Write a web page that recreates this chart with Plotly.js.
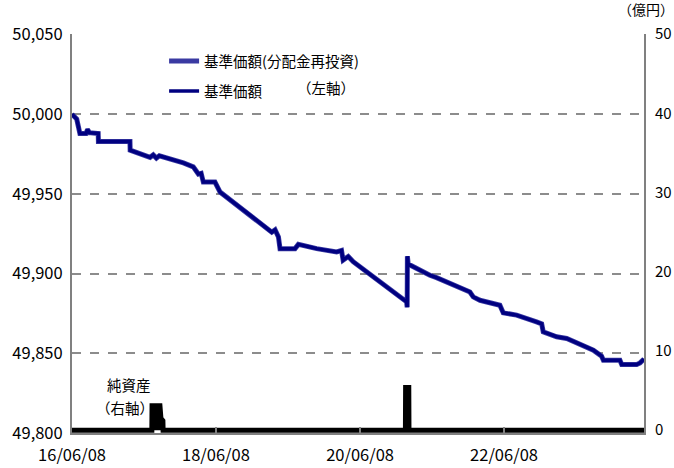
<!DOCTYPE html>
<html>
<head>
<meta charset="utf-8">
<script src="https://cdn.plot.ly/plotly-3.0.1.min.js"></script>
<style>
html,body{margin:0;padding:0;background:#fff;}
#chart{width:674px;height:468px;}
</style>
</head>
<body>
<div id="chart"></div>
<script>
// 基準価額 (left axis)
const navDates = [
  '2016-06-08','2016-07-02','2016-07-18','2016-08-18','2016-08-26','2016-09-04','2016-10-19','2016-10-20',
  '2017-03-29','2017-03-30','2017-07-09','2017-07-25','2017-08-10','2017-08-25','2017-12-25',
  '2018-02-13','2018-03-11','2018-03-25','2018-04-05','2018-06-03','2018-06-29','2018-10-08',
  '2019-01-01','2019-03-18','2019-04-04','2019-04-21','2019-04-29','2019-07-14','2019-07-31',
  '2019-09-28','2019-11-01','2020-02-10','2020-03-06','2020-03-14','2020-04-09','2020-05-04',
  '2021-01-30','2021-02-02','2021-02-03','2021-02-07','2021-05-28','2021-07-01','2021-12-17',
  '2022-01-03','2022-02-06','2022-05-18','2022-06-04','2022-08-11','2022-11-20','2022-12-16',
  '2022-12-24','2023-03-02','2023-04-22','2023-09-04','2023-10-16','2023-10-25','2024-01-17',
  '2024-01-26','2024-04-11','2024-04-28','2024-05-18'
];
const navValues = [
  50000,49997,49988,49988,49990.5,49988.5,49988,49983,
  49983,49977.5,49973,49974.5,49972.5,49974,49969.5,
  49967,49962.5,49963,49957.5,49957.5,49951.2,49941.8,
  49933.5,49926,49927.5,49923,49915.7,49915.7,49918.4,
  49916.7,49915.7,49913.6,49914.5,49908.5,49910.8,49907.5,
  49882.3,49879,49910.9,49906,49899,49897.5,49888.5,
  49885.4,49883.3,49880.2,49875.4,49874,49869.7,49868.5,
  49863.5,49860.4,49859.3,49852,49848.2,49845.7,49845.7,
  49843,49843,49844,49846.4
];
// 基準価額(分配金再投資) — overlaps 基準価額 (no distributions)
const reinvestValues = navValues.slice();

// 純資産 (right axis, 億円)
const assetDates = [
  '2016-06-08','2017-07-18','2017-07-19','2017-08-28','2017-09-02','2017-09-12','2017-09-13',
  '2021-01-24','2021-01-25','2021-02-10','2021-02-11','2024-05-18'
];
const assetValues = [0,0,3.1,3.1,1.5,1.2,0,0,5.4,5.4,0,0];

const xTicks = ['2016-06-08','2018-06-08','2020-06-08','2022-06-08'];
const xTickText = ['16/06/08','18/06/08','20/06/08','22/06/08'];
const yTicks = [49800,49850,49900,49950,50000,50050];
const yTickText = ['49,800','49,850','49,900','49,950','50,000','50,050'];
const y2Ticks = [0,10,20,30,40,50];

const FONT = '"Noto Sans CJK JP", "Noto Sans", sans-serif';

const traces = [
  {
    x: assetDates, y: assetValues, yaxis: 'y2', type: 'scatter', mode: 'lines',
    name: '純資産', showlegend: false,
    fill: 'tozeroy', fillcolor: '#000000',
    line: {color: '#000000', width: 5}
  },
  {
    x: navDates, y: reinvestValues, type: 'scatter', mode: 'lines',
    name: '基準価額(分配金再投資)', legendgroup: 'a',
    line: {color: '#3a3aa2', width: 5}
  },
  {
    x: navDates, y: navValues, type: 'scatter', mode: 'lines',
    name: '基準価額', legendgroup: 'b',
    line: {color: '#000080', width: 3.5}
  }
];

const layout = {
  width: 674, height: 468,
  margin: {l: 72, r: 30, t: 34, b: 35},
  paper_bgcolor: '#ffffff', plot_bgcolor: '#ffffff',
  font: {family: FONT, size: 14, color: '#000'},
  showlegend: true,
  legend: {
    x: 0.161, y: 0.972, xanchor: 'left', yanchor: 'top',
    bgcolor: 'rgba(0,0,0,0)', borderwidth: 0,
    font: {family: FONT, size: 14.5, color: '#000'},
    traceorder: 'grouped', tracegroupgap: 8
  },
  xaxis: {
    type: 'date', range: ['2016-06-08', '2024-05-18'],
    tickvals: xTicks, ticktext: xTickText,
    ticks: 'inside', ticklen: 6, tickwidth: 1.5, tickcolor: '#808080',
    ticklabelstandoff: 6,
    showgrid: false, zeroline: false,
    showline: true, linecolor: '#808080', linewidth: 2,
    tickfont: {family: FONT, size: 16.5, color: '#000'}
  },
  yaxis: {
    range: [49800, 50050.4], tickvals: yTicks, ticktext: yTickText,
    showgrid: true, gridcolor: '#8c8c8c', gridwidth: 2, griddash: 'dash',
    zeroline: false, showline: true, linecolor: '#808080', linewidth: 2,
    ticks: '', ticklabelstandoff: 4,
    tickfont: {family: FONT, size: 16.5, color: '#000'}
  },
  yaxis2: {
    overlaying: 'y', side: 'right', range: [-0.35, 50], tickvals: y2Ticks,
    showgrid: false, zeroline: false, showline: true, linecolor: '#808080', linewidth: 2,
    ticks: '', ticklabelstandoff: 6,
    tickfont: {family: FONT, size: 15, color: '#000'}
  },
  annotations: [
    {text: '（億円）', xref: 'paper', yref: 'paper', x: 1.056, y: 1.063,
     xanchor: 'right', yanchor: 'middle', showarrow: false,
     font: {family: FONT, size: 14, color: '#000'}},
    {text: '（左軸）', xref: 'paper', yref: 'paper', x: 0.39, y: 0.866,
     xanchor: 'left', yanchor: 'middle', showarrow: false,
     font: {family: FONT, size: 14.5, color: '#000'}},
    {text: '純資産', xref: 'paper', yref: 'paper', x: 0.057, y: 0.122,
     xanchor: 'left', yanchor: 'middle', showarrow: false,
     font: {family: FONT, size: 14.5, color: '#000'}},
    {text: '（右軸）', xref: 'paper', yref: 'paper', x: 0.038, y: 0.065,
     xanchor: 'left', yanchor: 'middle', showarrow: false,
     font: {family: FONT, size: 14.5, color: '#000'}}
  ]
};

Plotly.newPlot('chart', traces, layout, {displayModeBar: false, staticPlot: true});
</script>
</body>
</html>
